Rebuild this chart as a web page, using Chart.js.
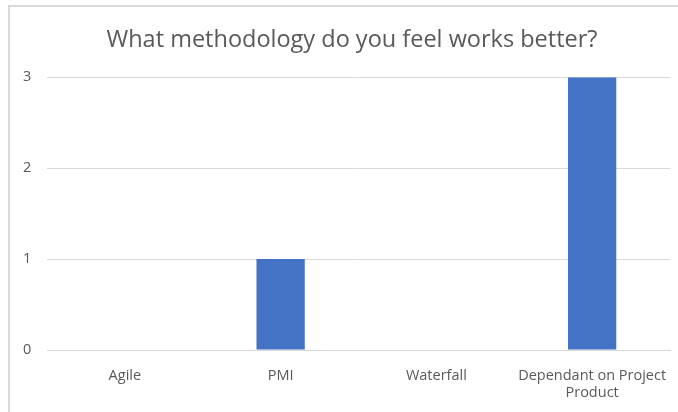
<!DOCTYPE html>
<html>
<head>
<meta charset="utf-8">
<script src="https://cdn.jsdelivr.net/npm/chart.js@4/dist/chart.umd.min.js"></script>
<style>
  html, body { margin: 0; padding: 0; background: #ffffff; }
  #wrap { position: relative; width: 678px; height: 412px; overflow: hidden; background: #ffffff; }
  #frame { position: absolute; left: 8px; top: 5px; width: 760px; height: 500px;
           border-top: 2px solid #d9d9d9; border-left: 2px solid #d9d9d9; box-sizing: border-box; }
  canvas { position: absolute; left: 0; top: 0; }
</style>
</head>
<body>
<div id="wrap">
  <div id="frame"></div>
  <canvas id="chart" width="678" height="412"></canvas>
</div>
<script>
// Survey responses: preferred project methodology
const categories = ["Agile", "PMI", "Waterfall", ["Dependant on Project", "Product"]];
const responses = [0, 1, 0, 3];
const yTicks = [0, 1, 2, 3];

const textColor = "#595959";
const gridColor = "#d9d9d9";
const barColor = "#4472C4";
const fontFamily = "'Open Sans', 'Noto Sans', sans-serif";

new Chart(document.getElementById("chart"), {
  type: "bar",
  data: {
    labels: categories,
    datasets: [{
      data: responses,
      backgroundColor: barColor,
      borderWidth: 0,
      categoryPercentage: 1.0,
      barPercentage: 0.31
    }]
  },
  options: {
    responsive: false,
    animation: false,
    layout: { padding: { left: 34, right: 8, top: 0, bottom: 0 } },
    plugins: {
      legend: { display: false },
      tooltip: { enabled: false },
      title: {
        display: true,
        text: "What methodology do you feel works better?",
        color: textColor,
        font: { family: fontFamily, size: 23.5, weight: "normal", lineHeight: 1.2 },
        padding: { top: 26, bottom: 23 }
      }
    },
    scales: {
      x: {
        grid: { display: false, drawTicks: false },
        border: { display: true, color: gridColor, width: 1 },
        ticks: {
          color: textColor,
          font: { family: fontFamily, size: 14.5, lineHeight: 1.17 },
          padding: 17,
          maxRotation: 0,
          autoSkip: false
        },
        afterFit: (scale) => {
          scale.height = 62;
          scale.paddingLeft = 0;
          scale.paddingRight = 0;
        }
      },
      y: {
        min: yTicks[0],
        max: yTicks[yTicks.length - 1],
        grid: { color: gridColor, lineWidth: 1, drawTicks: false },
        border: { display: false },
        ticks: {
          stepSize: yTicks[1] - yTicks[0],
          color: textColor,
          font: { family: fontFamily, size: 14.5 },
          mirror: true,
          padding: -24
        },
        afterFit: (scale) => {
          scale.width = 13;
          scale.paddingTop = 0;
          scale.paddingBottom = 0;
        }
      }
    }
  }
});
</script>
</body>
</html>
